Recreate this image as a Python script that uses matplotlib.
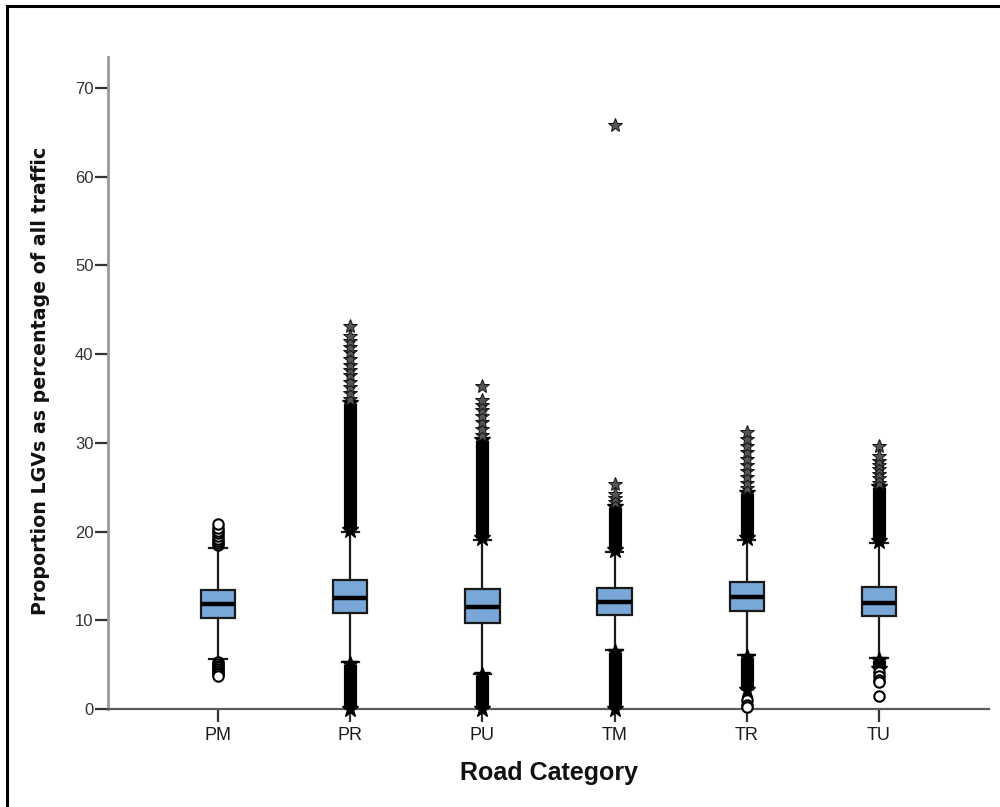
import matplotlib
matplotlib.use("Agg")
import matplotlib.pyplot as plt
from matplotlib.lines import Line2D

# Road categories and box statistics (percentage of LGVs in all traffic)
categories = ["PM", "PR", "PU", "TM", "TR", "TU"]
q1 = [10.3, 10.8, 9.7, 10.6, 11.0, 10.5]
median = [11.85, 12.55, 11.45, 12.1, 12.6, 12.0]
q3 = [13.4, 14.6, 13.5, 13.6, 14.35, 13.8]
whisker_low = [5.6, 5.3, 4.0, 6.6, 6.1, 5.7]
whisker_high = [18.1, 20.0, 19.1, 17.7, 19.1, 18.7]

# Ranges where outliers are so dense that they merge into a solid column
dense_upper = [None, (20.2, 34.5), (19.3, 30.3), (17.9, 22.8), (19.3, 24.3), (18.9, 25.0)]
dense_lower = [None, (0.0, 5.1), (0.0, 3.8), (0.0, 6.4), (2.1, 5.9), (4.5, 5.5)]

# Individual outliers (circles) and extreme values (stars)
circles = [
    [18.5, 18.7, 18.9, 19.2, 19.5, 19.8, 20.1, 20.4, 20.85,
     5.3, 5.1, 4.9, 4.7, 4.5, 4.3, 4.1, 3.9, 3.7],
    [],
    [],
    [],
    [1.0, 0.5, 0.2],
    [4.2, 3.7, 3.3, 3.0, 1.45],
]
stars = [
    [],
    [35.0, 35.6, 36.3, 36.9, 37.6, 38.2, 38.8, 39.5, 40.2, 40.8, 41.5, 42.1, 43.2],
    [30.9, 31.6, 32.3, 33.0, 33.7, 34.3, 34.8, 36.4],
    [23.3, 23.8, 24.2, 25.4, 65.8],
    [24.9, 25.5, 26.1, 26.8, 27.5, 28.2, 29.0, 29.7, 30.4, 31.2],
    [25.5, 26.0, 26.5, 27.0, 27.5, 28.0, 28.5, 29.6],
]

yticks = [0, 10, 20, 30, 40, 50, 60, 70]

fig = plt.figure(figsize=(10, 8.07), dpi=100)
ax = fig.add_axes([0.108, 0.1214, 0.881, 0.808])

positions = list(range(len(categories)))
stats = []
for i, name in enumerate(categories):
    stats.append(dict(label=name, q1=q1[i], med=median[i], q3=q3[i],
                      whislo=whisker_low[i], whishi=whisker_high[i], fliers=[]))

ax.bxp(stats, positions=positions, widths=0.26, capwidths=0.13,
       showfliers=False, patch_artist=True,
       boxprops=dict(facecolor="#79a8d8", edgecolor="#1a1a1a", linewidth=1.6),
       medianprops=dict(color="black", linewidth=3.2, solid_capstyle="butt"),
       whiskerprops=dict(color="#1a1a1a", linewidth=1.6),
       capprops=dict(color="#1a1a1a", linewidth=1.6),
       zorder=3)

for i, x in enumerate(positions):
    for band in (dense_upper[i], dense_lower[i]):
        if band is None:
            continue
        lo, hi = band
        ax.vlines(x, lo, hi, colors="black", linewidth=9.5, zorder=4)
        ax.plot([x, x], [lo, hi], linestyle="none", marker="*",
                markersize=12, color="black", zorder=4, clip_on=False)
    if circles[i]:
        ax.plot([x] * len(circles[i]), circles[i], linestyle="none", marker="o",
                markersize=7.5, markerfacecolor="white", markeredgecolor="black",
                markeredgewidth=1.5, zorder=5, clip_on=False)
    if stars[i]:
        ax.plot([x] * len(stars[i]), stars[i], linestyle="none", marker="*",
                markersize=10.5, markerfacecolor="#555555", markeredgecolor="#111111",
                markeredgewidth=0.7, zorder=5, clip_on=False)

ax.set_xlim(-0.832, 5.832)
ax.set_ylim(0, 73.5)
ax.set_xticks(positions)
ax.set_xticklabels(categories)
ax.set_yticks(yticks)

for side in ("top", "right"):
    ax.spines[side].set_visible(False)
ax.spines["left"].set_color("#9a9a9a")
ax.spines["left"].set_linewidth(2.0)
ax.spines["bottom"].set_color("#5a5a5a")
ax.spines["bottom"].set_linewidth(1.6)

ax.tick_params(axis="y", length=9.5, width=1.6, color="#333333", pad=1,
               labelsize=12, labelcolor="#333333")
ax.tick_params(axis="x", length=9, width=1.6, color="#333333", pad=4,
               labelsize=13, labelcolor="#1a1a1a")
for lab in ax.get_xticklabels() + ax.get_yticklabels():
    lab.set_family("Liberation Sans")

fig.text(0.041, 0.528, "Proportion LGVs as percentage of all traffic",
         rotation=90, ha="center", va="center", fontsize=13.7,
         fontweight="bold", family="DejaVu Sans", color="#111111")
fig.text(0.5485, 0.042, "Road Category", ha="center", va="center",
         fontsize=18, fontweight="bold", family="Liberation Sans", color="#111111")

# Frame along the left and top edges of the figure
fig.add_artist(Line2D([0.0068, 0.0068], [0.0, 0.992], color="black", linewidth=2.2))
fig.add_artist(Line2D([0.0068, 1.0], [0.992, 0.992], color="black", linewidth=2.2))

fig.savefig("out.png", dpi=100, facecolor="white")
